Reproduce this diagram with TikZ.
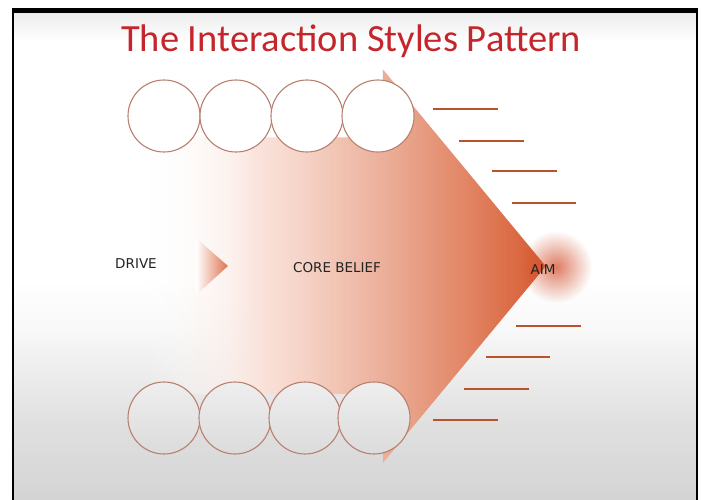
\documentclass[tikz,border=0pt]{standalone}
\usepackage{fontspec}
\setmainfont{Carlito}
\newfontfamily\lblfont{DejaVu Sans}
\usetikzlibrary{fadings}
\definecolor{titlered}{HTML}{C4262B}
\definecolor{pka}{HTML}{FCEEE9}
\definecolor{pkb}{HTML}{F6D4C8}
\definecolor{pkc}{HTML}{EBAE98}
\definecolor{pkd}{HTML}{E28767}
\definecolor{pke}{HTML}{D65A30}
\definecolor{bgtop}{HTML}{EDEDED}
\definecolor{bga}{HTML}{F8F8F8}
\definecolor{bgb}{HTML}{E0E0E0}
\definecolor{bgc}{HTML}{D4D4D4}
\definecolor{circline}{HTML}{B9806F}
\definecolor{tickcol}{HTML}{B9532E}
\definecolor{glowcol}{HTML}{D4502E}
\definecolor{drivecol}{HTML}{DD7350}
\definecolor{txtcol}{HTML}{222222}
\pgfdeclarehorizontalshading{arrowshade}{100bp}{color(0bp)=(white); color(27bp)=(white); color(37bp)=(pka); color(45.5bp)=(pkb); color(55.7bp)=(pkc); color(65bp)=(pkd); color(75bp)=(pke); color(100bp)=(pke)}
\pgfdeclarehorizontalshading{arrowmask}{100bp}{color(0bp)=(black); color(27bp)=(black); color(40bp)=(white); color(100bp)=(white)}
\pgfdeclarefading{arrowfade}{\pgfuseshading{arrowmask}}
\pgfdeclareverticalshading{bgshade}{100bp}{color(0bp)=(bgc); color(25bp)=(bgc); color(33bp)=(bgb); color(42.5bp)=(bga); color(47.6bp)=(white); color(72bp)=(white); color(75bp)=(bgtop); color(100bp)=(bgtop)}
\tikzfading[name=glowfade, inner color=transparent!25, outer color=transparent!100]
\tikzset{
  circ/.style={circle, draw=circline, line width=1.1pt, minimum size=72pt, inner sep=0pt},
  topcirc/.style={circ, fill=white},
  botcirc/.style={circ, top color=bga!60!bgb, bottom color=bgb!60!bgc},
  tick/.style={draw=tickcol, line width=2.6pt},
  lbl/.style={font=\lblfont\fontsize{13.5}{16}\selectfont, text=txtcol, inner sep=0pt}
}
\begin{document}
\begin{tikzpicture}[x=1pt,y=-1pt]
\useasboundingbox (0,0) rectangle (702,500);
\fill[white] (0,0) rectangle (702,500);
\shade[shading=bgshade] (14,13) rectangle (696,500);
\fill[black] (12,8) rectangle (698,13);
\fill[black] (12,8) rectangle (14,500);
\fill[black] (696,8) rectangle (698,500);
% title
\node[anchor=base, text=titlered, font=\fontsize{38.5}{44}\selectfont, inner sep=0pt] (title) at (351,52) {The Interaction Styles Pattern};
% big arrow
\shade[shading=arrowshade, path fading=arrowfade, fit fading=true] (130,137) -- (383,137) -- (383,69) -- (546,266) -- (383,463) -- (383,394) -- (130,394) -- cycle;
% drive triangle
\shade[left color=white, right color=drivecol] (196,238) -- (228,266) -- (196,295) -- cycle;
% glow
\fill[glowcol, path fading=glowfade] (556,267) circle (36pt);
% circles
\node[topcirc] (t1) at (164,116) {};
\node[topcirc] (t2) at (236,116) {};
\node[topcirc] (t3) at (307,116) {};
\node[topcirc] (t4) at (378,116) {};
\node[botcirc] (b1) at (164,418) {};
\node[botcirc] (b2) at (235,418) {};
\node[botcirc] (b3) at (305,418) {};
\node[botcirc] (b4) at (374,418) {};
% ticks
\draw[tick] (433,109) -- (498,109);
\draw[tick] (459,141) -- (524,141);
\draw[tick] (492,171) -- (557,171);
\draw[tick] (512,203) -- (576,203);
\draw[tick] (516,326) -- (581,326);
\draw[tick] (486,357) -- (550,357);
\draw[tick] (464,389) -- (529,389);
\draw[tick] (433,420) -- (498,420);
% labels
\node[lbl] (drive) at (136,264) {DRIVE};
\node[lbl] (core) at (337,268) {CORE BELIEF};
\node[lbl] (aim) at (543,270) {AIM};
\end{tikzpicture}
\end{document}
